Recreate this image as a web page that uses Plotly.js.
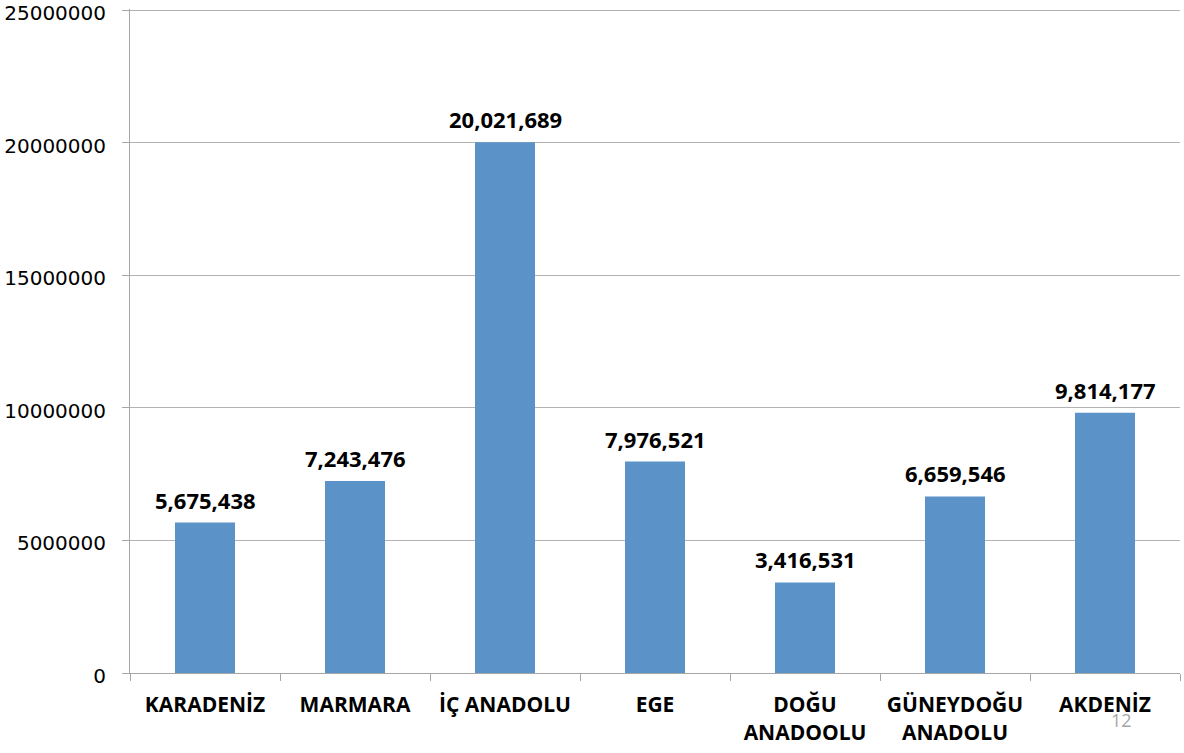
<!DOCTYPE html>
<html>
<head>
<meta charset="utf-8">
<script src="https://cdn.plot.ly/plotly-3.0.1.min.js"></script>
<style>html,body{margin:0;padding:0;background:#fff;}#chart{width:1184px;height:753px;}</style>
</head>
<body>
<div id="chart"></div>
<script>
const categories = ["KARADENİZ", "MARMARA", "İÇ ANADOLU", "EGE", "DOĞU<br>ANADOOLU", "GÜNEYDOĞU<br>ANADOLU", "AKDENİZ"];
const population = [5675438, 7243476, 20021689, 7976521, 3416531, 6659546, 9814177];
const yTickValues = [0, 5000000, 10000000, 15000000, 20000000, 25000000];
const yTickLabels = ["0", "5000000", "10000000", "15000000", "20000000", "25000000"];
const pageNumber = "12";

const trace = {
  type: "bar",
  x: categories,
  y: population,
  marker: {color: "#5b93c9"},
  hoverinfo: "none"
};

const valueLabels = categories.map((c, i) => ({
  x: c, y: population[i], xref: "x", yref: "y",
  text: population[i].toLocaleString("en-US"),
  showarrow: false, xanchor: "center", yanchor: "bottom", yshift: 6,
  font: {family: "Open Sans, sans-serif", size: 22, color: "#000", weight: "bold"}
}));

const layout = {
  width: 1184, height: 753,
  margin: {l: 130, r: 4, t: 9, b: 80},
  paper_bgcolor: "#fff", plot_bgcolor: "#fff",
  showlegend: false,
  bargap: 0.6,
  font: {family: "Open Sans, sans-serif", color: "#000"},
  xaxis: {
    type: "category",
    showline: true, linecolor: "#a6a6a6", linewidth: 1,
    ticks: "outside", tickson: "boundaries", ticklen: 7, tickcolor: "#a6a6a6",
    showgrid: false,
    tickfont: {family: "Open Sans, sans-serif", size: 21, color: "#000", weight: "bold"},
    ticklabelstandoff: 13
  },
  yaxis: {
    range: [0, 25050000],
    tickvals: yTickValues, ticktext: yTickLabels,
    showline: true, linecolor: "#a6a6a6", linewidth: 1,
    ticks: "outside", ticklen: 7, tickcolor: "#a6a6a6",
    showgrid: true, gridcolor: "#b3b3b3", gridwidth: 1,
    zeroline: false,
    ticklabeloverflow: "allow",
    ticklabelshift: 3,
    tickfont: {family: "DejaVu Sans, sans-serif", size: 20, color: "#000"},
    ticklabelstandoff: 12
  },
  annotations: valueLabels.concat([{
    text: pageNumber, xref: "paper", yref: "paper",
    x: (1121 - 130) / 1050, y: -47 / 664,
    xanchor: "center", yanchor: "middle", showarrow: false,
    font: {family: "Open Sans, sans-serif", size: 18, color: "#a6a6a6"}
  }])
};

Plotly.newPlot("chart", [trace], layout, {displayModeBar: false, staticPlot: true});
</script>
</body>
</html>
